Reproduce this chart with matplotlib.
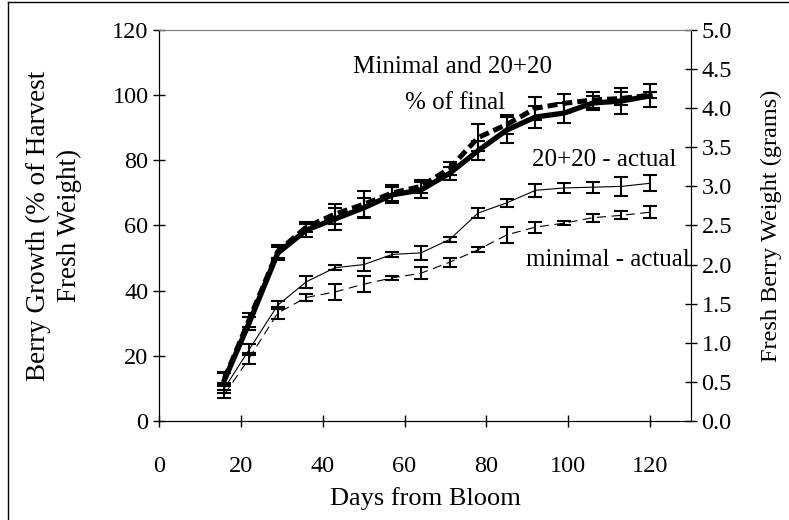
import numpy as np
import matplotlib.pyplot as plt
from matplotlib.lines import Line2D

plt.rcParams['font.family'] = ['Liberation Serif', 'DejaVu Serif']

days = [16, 22, 29, 36, 43, 50, 57, 64, 71, 78, 85, 92, 99, 106, 113, 120]

# % of harvest fresh weight
pct_2020 = [12.6, 30, 51.5, 58.6, 62, 65.4, 69.4, 70.9, 76, 83, 89.3, 93.3, 94.5, 97.6, 98.2, 99.8]
pct_2020_err = [2, 2, 2, 2, 3.5, 3, 2.5, 2.5, 2, 3, 4, 3.5, 3, 2, 4, 3.5]
pct_min = [13, 31, 52, 59.5, 63.5, 66.5, 70, 72, 77.5, 87, 91, 96, 97.5, 98.5, 99, 100]
pct_min_err = [2, 2, 2, 1.5, 3, 4, 2.5, 2, 2, 4, 3, 3.5, 3, 2.5, 2, 1]

# actual fresh berry weight (grams)
g_2020 = [0.42, 0.91, 1.48, 1.78, 1.96, 2.0, 2.13, 2.15, 2.32, 2.66, 2.79, 2.95, 2.98, 2.99, 3.0, 3.04]
g_2020_err = [0.06, 0.07, 0.05, 0.08, 0.03, 0.08, 0.03, 0.09, 0.03, 0.06, 0.05, 0.085, 0.06, 0.07, 0.12, 0.1]
g_min = [0.34, 0.8, 1.38, 1.58, 1.65, 1.75, 1.83, 1.89, 2.03, 2.19, 2.38, 2.48, 2.53, 2.6, 2.63, 2.67]
g_min_err = [0.05, 0.07, 0.08, 0.04, 0.1, 0.1, 0.03, 0.08, 0.06, 0.03, 0.1, 0.07, 0.03, 0.05, 0.05, 0.08]

fig = plt.figure(figsize=(7.89, 5.2), dpi=100)
ax = fig.add_axes([0.2015, 0.1904, 0.6743, 0.7519])
ax2 = ax.twinx()

# frame lines on the left and top of the picture
fig.lines.append(Line2D([0.01, 0.01], [0, 0.996], transform=fig.transFigure, color='black', linewidth=1))
fig.lines.append(Line2D([0.01, 1], [0.996, 0.996], transform=fig.transFigure, color='black', linewidth=1))

ax.errorbar(days, pct_2020, yerr=pct_2020_err, color='black', linewidth=3.8,
            elinewidth=1.5, capsize=4.7, capthick=1.5)
ax.errorbar(days, pct_min, yerr=pct_min_err, color='black', linewidth=3.6,
            linestyle=(0, (2, 1)), elinewidth=1.5, capsize=4.7, capthick=1.5)
ax2.errorbar(days, g_2020, yerr=g_2020_err, color='black', linewidth=0.8,
             elinewidth=1.5, capsize=4.7, capthick=1.5)
ax2.errorbar(days, g_min, yerr=g_min_err, color='black', linewidth=0.8,
             linestyle=(0, (8, 5)), elinewidth=1.5, capsize=4.7, capthick=1.5)

ax.set_xlim(0, 130)
ax.set_ylim(0, 120)
ax2.set_ylim(0, 5.0)
ax.set_xticks([0, 20, 40, 60, 80, 100, 120])
ax.set_yticks([0, 20, 40, 60, 80, 100, 120])
ax2.set_yticks(np.arange(0, 5.01, 0.5))
ax2.set_yticklabels([f"{v:.1f}" for v in np.arange(0, 5.01, 0.5)])

for a in (ax, ax2):
    a.tick_params(direction='inout', length=9, width=1, labelsize=17.5, pad=3)
ax.tick_params(axis='x', pad=21)
ax.spines['top'].set_color('#808080')
ax2.spines['top'].set_color('#808080')

ax.set_xlabel("Days from Bloom", fontsize=19, labelpad=7)
ax.set_ylabel("Berry Growth (% of Harvest\nFresh Weight)", fontsize=19.5,
              labelpad=22, linespacing=1.3)
ax2.set_ylabel("Fresh Berry Weight (grams)", fontsize=17.5, labelpad=21)

ax.text(71.8, 108.6, "Minimal and 20+20", fontsize=18, ha='center', va='center')
ax.text(72.3, 97.6, "% of final", fontsize=18, ha='center', va='center')
ax.text(108.7, 80.1, "20+20 - actual", fontsize=18, ha='center', va='center')
ax.text(109.6, 49.4, "minimal - actual", fontsize=18, ha='center', va='center')

fig.savefig("out.png", dpi=100)
